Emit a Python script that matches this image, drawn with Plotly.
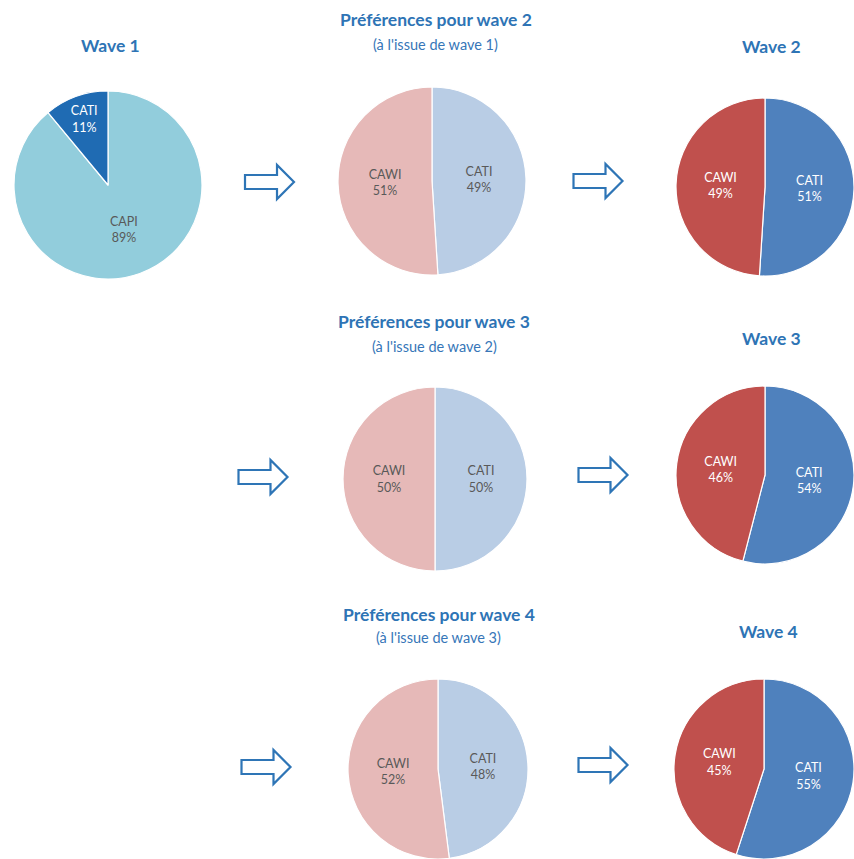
import plotly.graph_objects as go

W, H = 854, 859

# ---- data ----
w1_labels = ["CAPI", "CATI"]
w1_values = [89, 11]

mode_labels = ["CATI", "CAWI"]
pref_w2_values = [49, 51]
wave2_values = [51, 49]
pref_w3_values = [50, 50]
wave3_values = [54, 46]
pref_w4_values = [48, 52]
wave4_values = [55, 45]

wave_titles = ["Wave 1", "Wave 2", "Wave 3", "Wave 4"]
pref_titles = ["Préférences pour wave 2", "Préférences pour wave 3", "Préférences pour wave 4"]
pref_subtitles = ["(à l'issue de wave 1)", "(à l'issue de wave 2)", "(à l'issue de wave 3)"]

# ---- style ----
TITLE_BLUE = "#2E74B5"
GRAY_TXT = "#595959"
FONT = "Lato"

fig = go.Figure()


def clamp(v):
    return max(0.0, min(1.0, v))


def dom(cx, cy, r):
    return dict(x=[clamp((cx - r) / W), clamp((cx + r) / W)],
                y=[clamp(1 - (cy + r) / H), clamp(1 - (cy - r) / H)])


def add_pie(labels, values, colors, txtcolors, cx, cy, r):
    fig.add_trace(go.Pie(
        labels=labels, values=values, sort=False, direction="clockwise",
        rotation=0, hole=0,
        marker=dict(colors=colors, line=dict(color="white", width=1.2)),
        textinfo="label+percent", textposition="inside",
        insidetextorientation="horizontal",
        insidetextfont=dict(family=FONT, size=12.5, color=txtcolors),
        domain=dom(cx, cy, r), showlegend=False, hoverinfo="label+percent",
    ))


PREF_COLORS = ["#B9CDE5", "#E6B9B8"]
WAVE_COLORS = ["#4F81BD", "#C0504D"]

# Wave 1
add_pie(w1_labels, w1_values, ["#92CDDC", "#1F6BB3"], [GRAY_TXT, "white"], 108, 185, 94)
# Row 1
add_pie(mode_labels, pref_w2_values, PREF_COLORS, [GRAY_TXT, GRAY_TXT], 432, 181, 94)
add_pie(mode_labels, wave2_values, WAVE_COLORS, ["white", "white"], 765, 187, 89)
# Row 2
add_pie(mode_labels, pref_w3_values, PREF_COLORS, [GRAY_TXT, GRAY_TXT], 435, 479, 92)
add_pie(mode_labels, wave3_values, WAVE_COLORS, ["white", "white"], 765, 475, 89)
# Row 3
add_pie(mode_labels, pref_w4_values, PREF_COLORS, [GRAY_TXT, GRAY_TXT], 438, 769, 90)
add_pie(mode_labels, wave4_values, WAVE_COLORS, ["white", "white"], 764, 769, 90)

# ---- titles ----
ann = []


def txt(s, px, py, size, bold=False, color=TITLE_BLUE):
    ann.append(dict(text=f"<b>{s}</b>" if bold else s, x=px / W, y=1 - py / H,
                    xref="paper", yref="paper", showarrow=False,
                    xanchor="center", yanchor="middle",
                    font=dict(family=FONT, size=size, color=color)))


wave_pos = [(110, 46), (771, 47), (771, 338), (768, 631)]
for t, (px, py) in zip(wave_titles, wave_pos):
    txt(t, px, py, 17.5, bold=True)

pref_pos = [(436, 20), (434, 321), (439, 614)]
sub_pos = [(435, 45), (434, 346), (438, 637)]
for t, (px, py) in zip(pref_titles, pref_pos):
    txt(t, px, py, 17.5, bold=True)
for t, (px, py) in zip(pref_subtitles, sub_pos):
    txt(t, px, py, 14.5, color="#3676B8")

# ---- arrows (outlined block arrows) ----
shapes = []


def arrow(cx, cy):
    pts = [(-24.5, -7), (7.5, -7), (7.5, -17), (24.5, 0), (7.5, 17), (7.5, 7), (-24.5, 7)]
    d = "M " + " L ".join(f"{(cx + x) / W:.5f},{1 - (cy + y) / H:.5f}" for x, y in pts) + " Z"
    shapes.append(dict(type="path", path=d, xref="paper", yref="paper",
                       line=dict(color="#2E75B6", width=2.2), fillcolor="white"))


for cx, cy in [(269.5, 182), (598, 181), (263, 477), (603, 475), (266, 767), (603, 765)]:
    arrow(cx, cy)

fig.update_layout(
    width=W, height=H, margin=dict(l=0, r=0, t=0, b=0),
    paper_bgcolor="white", plot_bgcolor="white",
    annotations=ann, shapes=shapes, showlegend=False,
)

fig.write_html("out.html")
